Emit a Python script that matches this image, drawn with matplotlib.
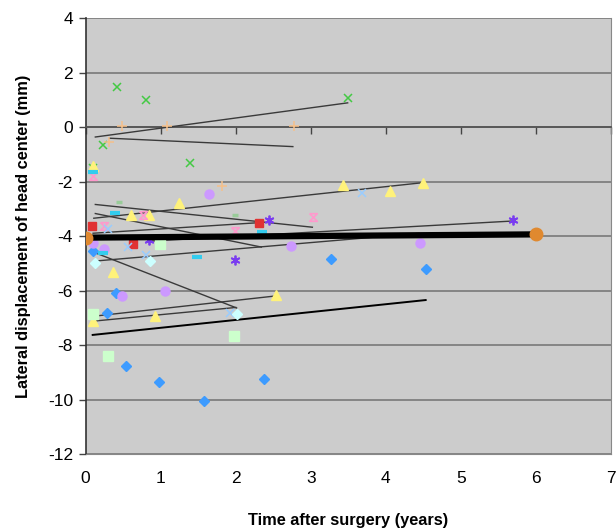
import matplotlib
matplotlib.use("Agg")
import matplotlib.pyplot as plt
from matplotlib.path import Path

plt.rcParams['font.family'] = ['Liberation Sans', 'DejaVu Sans']
plt.rcParams['axes.unicode_minus'] = False

# ---------------- data ----------------
xticks = [0, 1, 2, 3, 4, 5, 6, 7]
yticks = [-12, -10, -8, -6, -4, -2, 0, 2, 4]

bd_x = [0.094, 0.29, 0.41, 0.54, 0.98, 1.58, 2.37, 3.27, 4.53]
bd_y = [-4.55, -6.84, -6.08, -8.77, -9.35, -10.04, -9.26, -4.86, -5.22]
bd_line_x = [0.094, 4.53]
bd_line_y = [-7.63, -6.35]

gx_x = [0.1, 0.23, 0.42, 0.8, 1.39, 3.5]
gx_y = [-1.52, -0.65, 1.47, 0.99, -1.31, 1.06]
gx_line_x = [0.12, 3.5]
gx_line_y = [-0.37, 0.89]

op_x = [0.31, 0.49, 1.09, 1.82, 2.77]
op_y = [-0.56, 0.04, 0.04, -2.17, 0.04]
op_line_x = [0.31, 2.77]
op_line_y = [-0.41, -0.72]

pc_x = [0.1, 0.25, 0.48, 1.06, 1.65, 2.73, 4.45]
pc_y = [-4.26, -4.48, -6.19, -6.0, -2.47, -4.36, -4.27]
pc_line_x = [0.12, 4.45]
pc_line_y = [-4.92, -3.9]

yt1_x = [0.1, 0.61, 0.84, 1.25, 3.43, 4.05, 4.5]
yt1_y = [-1.43, -3.23, -3.23, -2.8, -2.13, -2.35, -2.07]
yt1_line_x = [0.1, 4.5]
yt1_line_y = [-3.35, -2.04]

yt2_x = [0.1, 0.37, 0.93, 2.53]
yt2_y = [-7.12, -5.33, -6.94, -6.17]
yt2_line_x = [0.12, 2.53]
yt2_line_y = [-6.94, -6.2]

rs_x = [0.09, 0.63, 2.31]
rs_y = [-3.63, -4.29, -3.51]
rs_line_x = [0.09, 2.31]
rs_line_y = [-3.9, -3.51]

ph_x = [0.1, 0.25, 0.77, 1.99, 3.03]
ph_y = [-1.8, -3.63, -3.23, -3.82, -3.29]
ph_line_x = [0.12, 3.03]
ph_line_y = [-2.84, -3.68]

pa_x = [0.84, 1.99, 2.44, 5.69]
pa_y = [-4.15, -4.88, -3.41, -3.41]
pa_line_x = [0.84, 5.69]
pa_line_y = [-4.19, -3.45]

cd_x = [0.1, 0.23, 0.39, 1.48, 2.35]
cd_y = [-1.64, -4.64, -3.14, -4.76, -3.86]
cd_line_x = [0.12, 2.35]
cd_line_y = [-3.17, -4.41]

gd_x = [0.45, 1.99]
gd_y = [-2.75, -3.23]

lx_x = [0.3, 0.57, 0.81, 1.92, 3.68]
lx_y = [-3.74, -4.41, -4.68, -6.81, -2.43]

lc_x = [0.125, 0.86, 2.02]
lc_y = [-4.98, -4.92, -6.86]
lc_line_x = [0.094, 2.02]
lc_line_y = [-4.58, -6.65]

gs_x = [0.1, 0.3, 0.99, 1.97]
gs_y = [-6.86, -8.4, -4.29, -7.67]
gs_line_x = [0.12, 2.01]
gs_line_y = [-7.12, -6.62]

mean_x = [0, 6]
mean_y = [-4.06, -3.94]

# ---------------- figure ----------------
fig = plt.figure(figsize=(6.16, 5.30), dpi=100)
ax = fig.add_axes([0.139, 0.1434, 0.853, 0.8226])
ax.set_facecolor('#CCCCCC')
ax.set_xlim(0, 7)
ax.set_ylim(-12, 4)

# grid
for yv in yticks:
    ax.axhline(yv, color='#7F7F7F', lw=1.3, zorder=1)

tl = dict(color='#3A3A3A', lw=1.0, zorder=3, solid_capstyle='butt')
for lx, ly in [(gx_line_x, gx_line_y), (op_line_x, op_line_y), (pc_line_x, pc_line_y),
               (yt1_line_x, yt1_line_y), (yt2_line_x, yt2_line_y), (rs_line_x, rs_line_y),
               (ph_line_x, ph_line_y), (pa_line_x, pa_line_y), (cd_line_x, cd_line_y),
               (lc_line_x, lc_line_y), (gs_line_x, gs_line_y)]:
    ax.plot(lx, ly, **tl)
ax.plot(bd_line_x, bd_line_y, color='#000000', lw=1.4, zorder=3)

hourglass = Path([(-1, 1), (1, 1), (-1, -1), (1, -1), (-1, 1)],
                 [Path.MOVETO, Path.LINETO, Path.LINETO, Path.LINETO, Path.LINETO])

def pts(x, y, **kw):
    ax.plot(x, y, ls='none', zorder=4, **kw)

pts(bd_x, bd_y, marker='D', ms=5.5, mfc='#3D9BFF', mec='#3D9BFF')
pts(gx_x, gx_y, marker='x', ms=6, mec='#44C944', mew=1.1)
pts(op_x, op_y, marker='+', ms=7, mec='#F5C08A', mew=1.1)
pts(pc_x, pc_y, marker='o', ms=6.5, mfc='#CC99FF', mec='#CC99FF')
pts(yt1_x, yt1_y, marker='^', ms=6.5, mfc='#FFF27A', mec='#FFF27A')
pts(yt2_x, yt2_y, marker='^', ms=6.5, mfc='#FFF27A', mec='#FFF27A')
pts(rs_x, rs_y, marker='s', ms=6, mfc='#E03333', mec='#E03333')
pts(ph_x, ph_y, marker=hourglass, ms=5.5, mfc='none', mec='#FF99CC', mew=1.2)
pts(pa_x, pa_y, marker=(6, 2, 0), ms=7, mec='#7A3CF0', mew=1.3)
pts(cd_x, cd_y, marker='_', ms=7, mec='#33CCEE', mew=3)
pts(gd_x, gd_y, marker='_', ms=4, mec='#99CC99', mew=2.5)
pts(lx_x, lx_y, marker='x', ms=6, mec='#99CCFF', mew=1.1)
pts(lc_x, lc_y, marker='D', ms=5.5, mfc='#CCFFFF', mec='#CCFFFF')
pts(gs_x, gs_y, marker='s', ms=6.5, mfc='#CCFFCC', mec='#CCFFCC')

ax.plot(mean_x, mean_y, color='black', lw=4.5, zorder=5, solid_capstyle='butt')
ax.plot(mean_x, mean_y, ls='none', marker='o', ms=9, mfc='#E0892F', mec='#E0892F', zorder=6)

# axes & ticks
ax.spines['top'].set_position(('data', 0))
ax.spines['top'].set_color('#555555')
ax.spines['top'].set_linewidth(1.3)
ax.spines['left'].set_color('#333333')
ax.spines['left'].set_linewidth(1.2)
ax.spines['right'].set_color('#888888')
ax.spines['bottom'].set_color('#888888')
ax.set_xticks(xticks)
ax.set_yticks(yticks)
ax.tick_params(axis='x', bottom=False, top=True, labelbottom=True, labeltop=False,
               direction='in', length=5, width=1, color='#444444', labelsize=12.5, pad=12)
ax.tick_params(axis='y', left=True, direction='out', length=5, width=1, color='#444444',
               labelsize=12.5, pad=4)
ax.set_xlabel('Time after surgery (years)', fontsize=11.8, fontweight='bold', labelpad=20)
ax.set_ylabel('Lateral displacement of head center (mm)', fontsize=11.8, fontweight='bold', labelpad=12)

fig.savefig('out.png', dpi=100)
